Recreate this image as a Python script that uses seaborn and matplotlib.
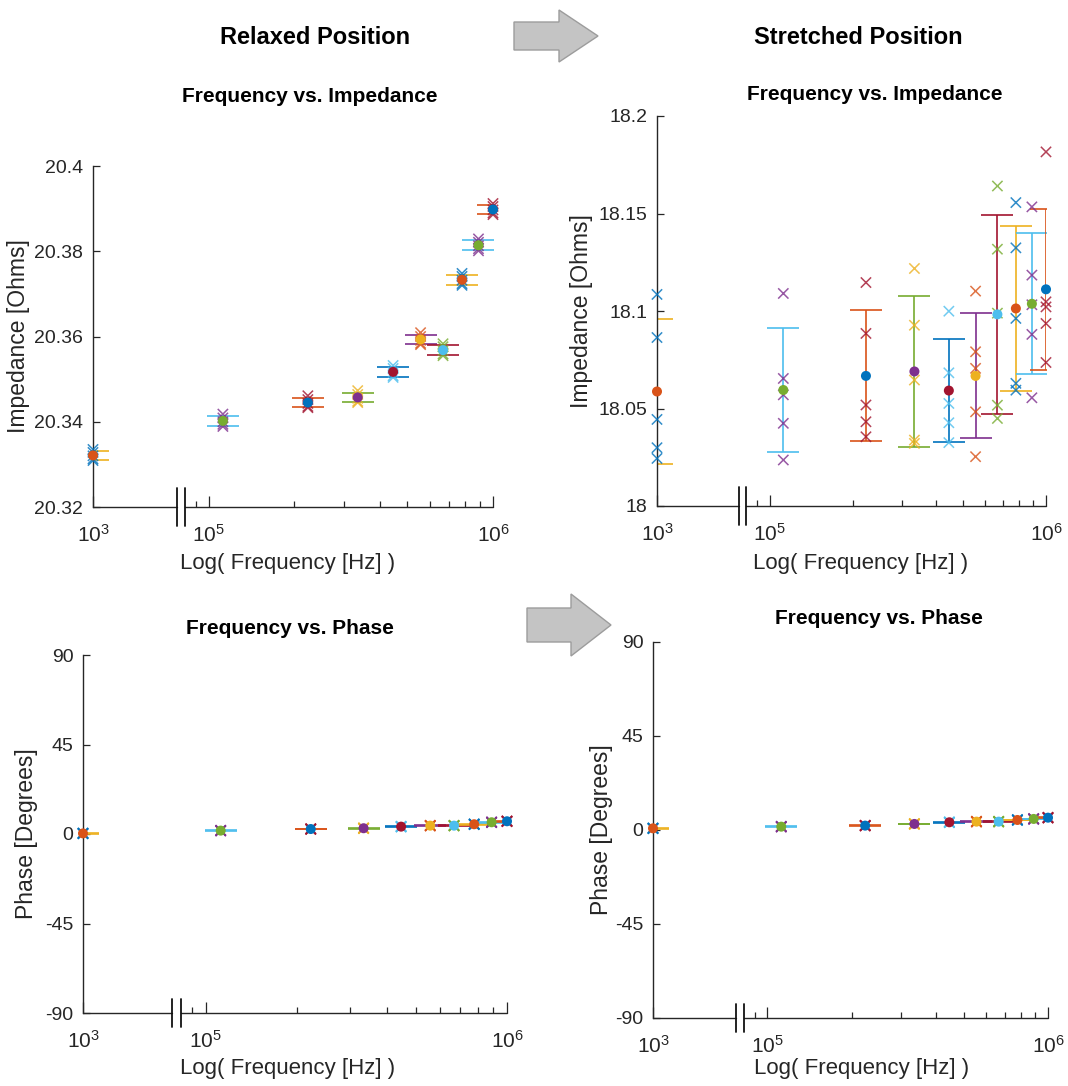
import numpy as np
import pandas as pd
import matplotlib
matplotlib.use("Agg")
import matplotlib.pyplot as plt
import seaborn as sns
from matplotlib.ticker import FixedLocator, FixedFormatter, NullFormatter
from matplotlib.patches import Polygon
from matplotlib.lines import Line2D

# ---------------------------------------------------------------- data
freq_hz = [1000, 112000, 223000, 334000, 445000, 556000, 667000, 778000, 889000, 1000000]

# five repeated measurements per frequency
relaxed_impedance = [
    [20.3335, 20.3328, 20.3320, 20.3313, 20.3309],
    [20.3418, 20.3409, 20.3400, 20.3394, 20.3389],
    [20.3461, 20.3452, 20.3443, 20.3436, 20.3433],
    [20.3473, 20.3464, 20.3455, 20.3448, 20.3445],
    [20.3532, 20.3525, 20.3516, 20.3508, 20.3504],
    [20.3609, 20.3600, 20.3591, 20.3584, 20.3581],
    [20.3583, 20.3576, 20.3567, 20.3559, 20.3555],
    [20.3748, 20.3741, 20.3732, 20.3724, 20.3720],
    [20.3829, 20.3821, 20.3813, 20.3806, 20.3801],
    [20.3912, 20.3905, 20.3897, 20.3890, 20.3886],
]
stretched_impedance = [
    [18.1085, 18.0864, 18.0444, 18.0299, 18.0244],
    [18.1090, 18.0654, 18.0570, 18.0424, 18.0236],
    [18.1146, 18.0885, 18.0518, 18.0432, 18.0355],
    [18.1218, 18.0927, 18.0646, 18.0338, 18.0321],
    [18.0999, 18.0683, 18.0526, 18.0427, 18.0325],
    [18.1102, 18.0791, 18.0706, 18.0483, 18.0253],
    [18.1641, 18.1317, 18.0989, 18.0517, 18.0449],
    [18.1556, 18.1324, 18.0962, 18.0629, 18.0594],
    [18.1534, 18.1184, 18.1032, 18.0880, 18.0555],
    [18.1816, 18.1047, 18.1021, 18.0936, 18.0736],
]
relaxed_phase = [
    [0.52, 0.38, 0.31, 0.22, 0.07],
    [1.93, 1.79, 1.68, 1.62, 1.48],
    [2.71, 2.60, 2.49, 2.41, 2.29],
    [3.12, 2.98, 2.91, 2.80, 2.69],
    [3.93, 3.78, 3.70, 3.61, 3.48],
    [4.41, 4.29, 4.22, 4.10, 3.98],
    [4.43, 4.27, 4.18, 4.12, 4.00],
    [5.12, 4.99, 4.90, 4.81, 4.68],
    [6.13, 5.98, 5.89, 5.82, 5.68],
    [6.62, 6.49, 6.40, 6.31, 6.18],
]
stretched_phase = [
    [1.02, 0.88, 0.79, 0.72, 0.59],
    [1.83, 1.69, 1.61, 1.50, 1.37],
    [2.32, 2.18, 2.10, 2.02, 1.88],
    [3.11, 2.99, 2.90, 2.81, 2.69],
    [3.92, 3.79, 3.71, 3.60, 3.48],
    [4.23, 4.09, 3.98, 3.92, 3.78],
    [4.21, 4.10, 4.02, 3.89, 3.78],
    [5.02, 4.88, 4.81, 4.70, 4.59],
    [5.52, 5.41, 5.29, 5.21, 5.07],
    [6.13, 5.99, 5.90, 5.81, 5.67],
]

relaxed_imp_ticks = [20.32, 20.34, 20.36, 20.38, 20.4]
relaxed_imp_ticklabels = ["20.32", "20.34", "20.36", "20.38", "20.4"]
stretched_imp_ticks = [18.0, 18.05, 18.1, 18.15, 18.2]
stretched_imp_ticklabels = ["18", "18.05", "18.1", "18.15", "18.2"]
phase_ticks = [-90, -45, 0, 45, 90]
phase_ticklabels = ["-90", "-45", "0", "45", "90"]

x_major_ticks = [1e3, 1e5, 1e6]
x_major_labels = [r"$10^{3}$", r"$10^{5}$", r"$10^{6}$"]
x_minor_ticks = [9e4, 2e5, 3e5, 4e5, 5e5, 6e5, 7e5, 8e5, 9e5]

line_colors = ["#0072BD", "#D95319", "#EDB120", "#7E2F8E", "#77AC30", "#4DBEEE", "#A2142F"]

# ---------------------------------------------------------------- style
sns.set_theme(style="white")
plt.rcParams["font.family"] = ["Liberation Sans", "DejaVu Sans"]
plt.rcParams["mathtext.fontset"] = "custom"
plt.rcParams["mathtext.rm"] = "Liberation Sans"
plt.rcParams["mathtext.it"] = "Liberation Sans:italic"
plt.rcParams["axes.unicode_minus"] = False
INK = "#262626"

W, H = 1068, 1086
fig = plt.figure(figsize=(W / 100, H / 100), dpi=100)

# ---------------------------------------------------------------- broken log axis
# 1 kHz sits just left of a break; 90 kHz .. 1 MHz is an ordinary log axis.
SEG_POS = 4.592
SQUEEZE = 0.05
JOIN = (SEG_POS - 3 * SQUEEZE) / (1 - SQUEEZE)
BREAK_LEFT_HZ = 7.73e4
BREAK_RIGHT_HZ = 8.24e4


def fwd(f):
    lf = np.log10(np.clip(np.asarray(f, dtype=float), 1e-12, None))
    return np.where(lf < JOIN, SEG_POS + SQUEEZE * (lf - 3), lf)


def inv(p):
    p = np.asarray(p, dtype=float)
    with np.errstate(over="ignore", under="ignore"):
        lo = np.power(10.0, 3 + (p - SEG_POS) / SQUEEZE)
        hi = np.power(10.0, p)
    return np.where(p < JOIN, lo, hi)


def px_box(left, top, right, bottom):
    return [left / W, 1 - bottom / H, (right - left) / W, (bottom - top) / H]


def draw_panel(box, trials, ylim, yticks, yticklabels, ylabel, ylabel_x, xlabel_y, xlabel_x, brk_px):
    ax = fig.add_axes(px_box(*box))
    ax.set_xscale("function", functions=(fwd, inv))

    rows = []
    for i, (f, vals) in enumerate(zip(freq_hz, trials)):
        for v in vals:
            rows.append({"freq": f, "value": v, "point": f"p{i}"})
    df = pd.DataFrame(rows)
    stats = (df.groupby("point", sort=False)
               .agg(freq=("freq", "first"), mean=("value", "mean"), sd=("value", "std"))
               .reset_index())

    n = len(freq_hz)
    trial_pal = {f"p{i}": line_colors[(3 * i) % 7] for i in range(n)}
    mean_pal = {f"p{i}": line_colors[(3 * i + 1) % 7] for i in range(n)}
    err_col = [line_colors[(3 * i + 2) % 7] for i in range(n)]

    for i, r in stats.iterrows():
        ax.errorbar(r["freq"], r["mean"], yerr=r["sd"], fmt="none", ecolor=err_col[i],
                    elinewidth=1.2, capsize=11.2, capthick=1.2, zorder=2)

    sns.scatterplot(data=df, x="freq", y="value", hue="point", palette=trial_pal,
                    marker="x", s=55, linewidth=1.1, alpha=0.8, legend=False, ax=ax,
                    clip_on=False, zorder=3)
    sns.scatterplot(data=stats, x="freq", y="mean", hue="point", palette=mean_pal,
                    marker="o", s=52, linewidth=0, legend=False, ax=ax,
                    clip_on=False, zorder=4)

    ax.set_xlim(1e3, 1e6)
    ax.set_ylim(*ylim)
    ax.xaxis.set_major_locator(FixedLocator(x_major_ticks))
    ax.xaxis.set_major_formatter(FixedFormatter(x_major_labels))
    ax.xaxis.set_minor_locator(FixedLocator(x_minor_ticks))
    ax.xaxis.set_minor_formatter(NullFormatter())
    ax.yaxis.set_major_locator(FixedLocator(yticks))
    ax.yaxis.set_major_formatter(FixedFormatter(yticklabels))

    for side in ("top", "right", "bottom"):
        ax.spines[side].set_visible(False)
    ax.spines["left"].set_color(INK)
    ax.spines["left"].set_linewidth(1.0)

    ax.tick_params(axis="y", direction="in", length=5, width=0.9, color=INK,
                   labelcolor=INK, labelsize=14, pad=7, left=True)
    ax.tick_params(axis="x", which="major", direction="in", length=8, width=0.9,
                   color=INK, labelcolor=INK, labelsize=15, pad=12.5, bottom=True)
    ax.tick_params(axis="x", which="minor", direction="in", length=4.3, width=0.9,
                   color=INK, bottom=True)

    # bottom axis line drawn in two pieces around the break
    xt = ax.get_xaxis_transform()
    for seg in ((1e3, BREAK_LEFT_HZ), (BREAK_RIGHT_HZ, 1e6)):
        ax.add_line(Line2D(seg, (0, 0), transform=xt, color=INK, lw=1.0, clip_on=False))
    h_px = box[3] - box[1]
    d = brk_px / h_px
    for xb in (BREAK_LEFT_HZ, BREAK_RIGHT_HZ):
        ax.add_line(Line2D((xb, xb), (-d, d), transform=xt, color="#111111", lw=1.3, clip_on=False))

    ax.set_xlabel("Log( Frequency [Hz] )", fontsize=16, color=INK)
    ax.set_ylabel(ylabel, fontsize=16.5, color=INK)
    ax.xaxis.set_label_coords(xlabel_x, xlabel_y)
    ax.yaxis.set_label_coords(ylabel_x, 0.5)
    ax.set_facecolor("none")
    return ax


draw_panel((93, 166, 493, 507), relaxed_impedance, (20.32, 20.4), relaxed_imp_ticks,
           relaxed_imp_ticklabels, "Impedance [Ohms]", -0.1575, -0.135, 0.4875, 19)
draw_panel((657, 116, 1046, 506), stretched_impedance, (18.0, 18.2), stretched_imp_ticks,
           stretched_imp_ticklabels, "Impedance [Ohms]", -0.1645, -0.12, 0.524, 19)
draw_panel((83, 655, 507, 1013), relaxed_phase, (-90, 90), phase_ticks,
           phase_ticklabels, "Phase [Degrees]", -0.106, -0.126, 0.483, 14)
draw_panel((653, 642, 1048, 1018), stretched_phase, (-90, 90), phase_ticks,
           phase_ticklabels, "Phase [Degrees]", -0.101, -0.106, 0.527, 14)

# ---------------------------------------------------------------- headings
def ftext(x, y, s, size):
    fig.text(x / W, 1 - y / H, s, ha="center", va="center", fontsize=size,
             fontweight="bold", color="black")


ftext(315, 38, "Relaxed Position", 17)
ftext(858, 38, "Stretched Position", 17)
ftext(310, 97, "Frequency vs. Impedance", 15)
ftext(875, 94, "Frequency vs. Impedance", 15)
ftext(290, 628, "Frequency vs. Phase", 15)
ftext(879, 618, "Frequency vs. Phase", 15)


# ---------------------------------------------------------------- block arrows
def block_arrow(x0, y_mid, body_len, body_half, head_len, head_half):
    xs = [x0, x0 + body_len, x0 + body_len, x0 + body_len + head_len,
          x0 + body_len, x0 + body_len, x0]
    ys = [y_mid - body_half, y_mid - body_half, y_mid - head_half, y_mid,
          y_mid + head_half, y_mid + body_half, y_mid + body_half]
    pts = [(x / W, 1 - y / H) for x, y in zip(xs, ys)]
    fig.patches.append(Polygon(pts, closed=True, transform=fig.transFigure,
                               facecolor="#c4c4c4", edgecolor="#9c9c9c", lw=1.0))


block_arrow(514, 36, 45, 14, 39, 26)
block_arrow(527, 625, 44, 17, 40, 31)

fig.savefig("out.png", dpi=100)
